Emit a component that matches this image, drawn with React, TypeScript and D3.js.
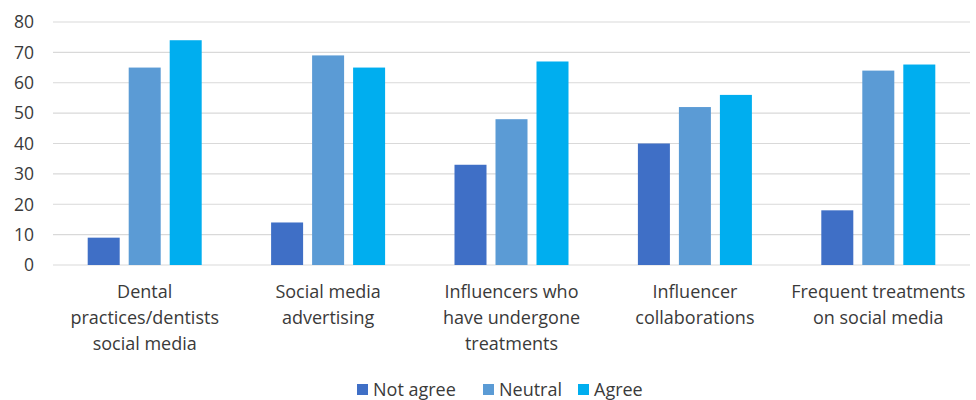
import React, { useEffect, useRef } from "react";
import * as d3 from "d3";

const categories: string[][] = [
  ["Dental", "practices/dentists", "social media"],
  ["Social media", "advertising"],
  ["Influencers who", "have undergone", "treatments"],
  ["Influencer", "collaborations"],
  ["Frequent treatments", "on social media"],
];
const seriesNames = ["Not agree", "Neutral", "Agree"];
const notAgree = [9, 14, 33, 40, 18];
const neutral = [65, 69, 48, 52, 64];
const agree = [74, 65, 67, 56, 66];
const yTicks = [0, 10, 20, 30, 40, 50, 60, 70, 80];
const colors = ["#3f6fc6", "#5b9bd5", "#00aeef"];

const W = 976;
const H = 400;
const FONT = "'Open Sans', sans-serif";

export default function App() {
  const ref = useRef<SVGSVGElement>(null);
  useEffect(() => {
    const svg = d3.select(ref.current);
    svg.selectAll("*").remove();
    const left = 53, right = 970, top = 22, bottom = 265;
    const x = d3.scaleBand<number>().domain(d3.range(categories.length)).range([left, right]);
    const inner = d3.scaleBand<number>().domain([0, 1, 2]).range([0, 3 * 32 + 2 * 9]).paddingInner(9 / 41);
    const y = d3.scaleLinear().domain([0, 80]).range([bottom, top]);
    const series = [notAgree, neutral, agree];

    svg.append("g").selectAll("line").data(yTicks).join("line")
      .attr("x1", left).attr("x2", right)
      .attr("y1", (d) => y(d)).attr("y2", (d) => y(d))
      .attr("stroke", "#d9d9d9").attr("stroke-width", 1.2);

    svg.append("g").selectAll("text").data(yTicks).join("text")
      .attr("x", 34).attr("y", (d) => y(d)).attr("dy", "0.36em")
      .attr("text-anchor", "end").attr("font-family", FONT).attr("font-size", 17.5)
      .attr("font-weight", 500).attr("fill", "#3a3a3a").text((d) => d);

    const groupW = 3 * 32 + 2 * 9;
    categories.forEach((_, ci) => {
      const gx = x(ci)! + (x.bandwidth() - groupW) / 2;
      series.forEach((s, si) => {
        svg.append("rect")
          .attr("x", gx + inner(si)!).attr("width", inner.bandwidth())
          .attr("y", y(s[ci])).attr("height", y(0) - y(s[ci]))
          .attr("fill", colors[si]);
      });
    });

    const lab = svg.append("g");
    categories.forEach((lines, ci) => {
      const cx = x(ci)! + x.bandwidth() / 2;
      lines.forEach((ln, li) => {
        lab.append("text").attr("x", cx).attr("y", 298 + li * 26)
          .attr("text-anchor", "middle").attr("font-family", FONT).attr("font-size", 18)
          .attr("font-weight", 500).attr("fill", "#3a3a3a").text(ln);
      });
    });

    const legX = [357, 483, 578];
    seriesNames.forEach((n, i) => {
      svg.append("rect").attr("x", legX[i]).attr("y", 384).attr("width", 11).attr("height", 11).attr("fill", colors[i]);
      svg.append("text").attr("x", legX[i] + 16).attr("y", 396).attr("font-family", FONT).attr("font-size", 18)
        .attr("font-weight", 500).attr("fill", "#3a3a3a").text(n);
    });
  }, []);
  return <svg ref={ref} width={W} height={H} style={{ position: "absolute", left: 0, top: 0, background: "#fff" }} />;
}
